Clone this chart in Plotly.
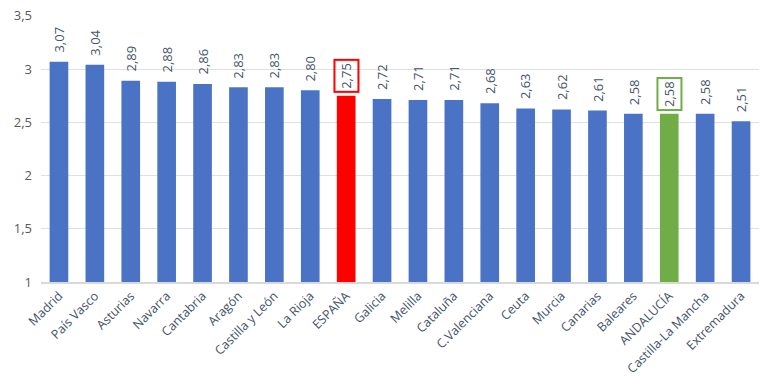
import plotly.graph_objects as go

regions = ["Madrid", "País Vasco", "Asturias", "Navarra", "Cantabria", "Aragón",
           "Castilla y León", "La Rioja", "ESPAÑA", "Galicia", "Melilla", "Cataluña",
           "C.Valenciana", "Ceuta", "Murcia", "Canarias", "Baleares", "ANDALUCÍA",
           "Castilla-La Mancha", "Extremadura"]
values = [3.07, 3.04, 2.89, 2.88, 2.86, 2.83, 2.83, 2.80, 2.75, 2.72, 2.71, 2.71,
          2.68, 2.63, 2.62, 2.61, 2.58, 2.58, 2.58, 2.51]
highlight = {"ESPAÑA": "#ff0000", "ANDALUCÍA": "#70ad47"}
y_ticks = [1, 1.5, 2, 2.5, 3, 3.5]

blue = "#4a73c6"
colors = [highlight.get(r, blue) for r in regions]

fig = go.Figure()
fig.add_trace(go.Bar(x=regions, y=[v - 1 for v in values], base=1,
                     marker=dict(color=colors, line=dict(width=0)),
                     hoverinfo="skip"))

for r, v in zip(regions, values):
    txt = f"{v:.2f}".replace(".", ",")
    boxed = r in highlight
    fig.add_annotation(x=r, y=v, text=txt, textangle=-90, showarrow=False,
                       yanchor="bottom", xanchor="center",
                       yshift=3 if boxed else 7,
                       font=dict(family="Open Sans, Calibri, sans-serif", size=13, color="#44546a"),
                       bordercolor=highlight.get(r) if boxed else None,
                       borderwidth=2 if boxed else 0, borderpad=2)

fig.update_layout(
    width=768, height=389,
    margin=dict(l=41, r=9, t=15, b=107),
    plot_bgcolor="white", paper_bgcolor="white",
    separators=",.",
    bargap=0.48,
    showlegend=False,
    font=dict(family="Open Sans, Calibri, sans-serif", color="#595959"),
)
fig.update_xaxes(tickangle=-45, tickfont=dict(size=12.5, color="#44546a"),
                 showgrid=False, showline=True, linecolor="#d9d9d9", linewidth=1.5,
                 ticks="", automargin=False)
fig.update_yaxes(range=[1, 3.508], tickvals=y_ticks, showgrid=True, gridcolor="#e0e0e0",
                 gridwidth=1, zeroline=False, tickfont=dict(size=13, color="#595959"),
                 ticks="", ticklabelstandoff=8, automargin=False)

fig.write_html("out.html", config={"displayModeBar": False},
               post_script="document.body.style.margin='0px';")
